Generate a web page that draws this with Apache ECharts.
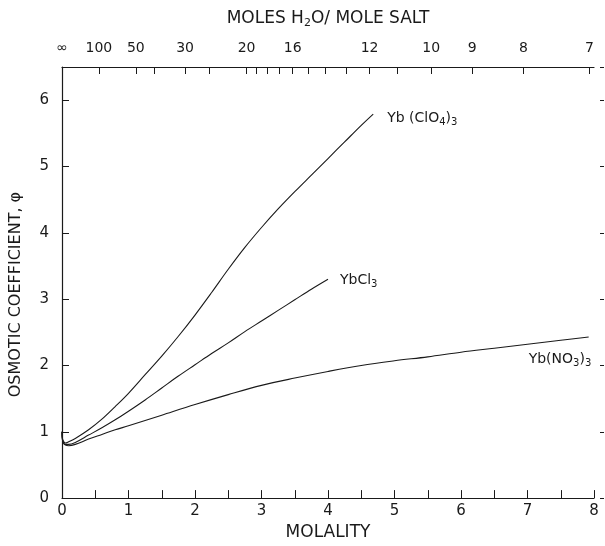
<!DOCTYPE html>
<html>
<head>
<meta charset="utf-8">
<script src="https://cdn.jsdelivr.net/npm/echarts@6/dist/echarts.min.js"></script>
<style>
  html, body { margin: 0; padding: 0; background: #fff; }
  #chart { width: 605px; height: 546px; }
</style>
</head>
<body>
<div id="chart"></div>
<script>
// molality / osmotic coefficient
var mClO4 = [0, 0.005, 0.02, 0.05, 0.1, 0.2, 0.4, 0.6, 0.8, 1.0, 1.25, 1.5, 1.75, 2.0, 2.25, 2.5, 2.75, 3.0, 3.25, 3.5, 3.75, 4.0, 4.25, 4.5, 4.68];
var phiClO4 = [1.0, 0.91, 0.86, 0.83, 0.85, 0.9, 1.03, 1.19, 1.38, 1.58, 1.86, 2.14, 2.44, 2.76, 3.1, 3.45, 3.78, 4.08, 4.36, 4.62, 4.87, 5.12, 5.37, 5.62, 5.79];

var mCl = [0, 0.005, 0.02, 0.05, 0.1, 0.2, 0.4, 0.6, 0.8, 1.0, 1.25, 1.5, 1.75, 2.0, 2.25, 2.5, 2.75, 3.0, 3.25, 3.5, 3.75, 4.0];
var phiCl = [1.0, 0.9, 0.84, 0.81, 0.81, 0.84, 0.95, 1.06, 1.18, 1.31, 1.48, 1.66, 1.84, 2.01, 2.18, 2.34, 2.51, 2.67, 2.83, 2.99, 3.15, 3.3];

var mNO3 = [0, 0.005, 0.02, 0.05, 0.1, 0.2, 0.4, 0.6, 0.8, 1.0, 1.5, 2.0, 2.5, 3.0, 3.5, 4.0, 4.5, 5.0, 5.5, 6.0, 6.5, 7.0, 7.5, 7.92];
var phiNO3 = [1.0, 0.89, 0.83, 0.8, 0.79, 0.81, 0.89, 0.96, 1.03, 1.09, 1.25, 1.41, 1.56, 1.7, 1.81, 1.91, 2.0, 2.07, 2.13, 2.2, 2.26, 2.32, 2.38, 2.43];

// top axis: moles H2O per mole salt (55.51 / m)
var waterLabels = ['∞', '100', '50', '30', '20', '16', '12', '10', '9', '8', '7'];
var waterTicks = [100, 50, 40, 30, 25, 20, 19, 18, 17, 16, 15, 14, 13, 12, 11, 10, 9, 8, 7];

function pairs(xs, ys) {
    return xs.map(function (x, i) { return [x, ys[i]]; });
}
function toMolality(n) {
    return n === '∞' ? 0 : 55.51 / Number(n);
}

var labelPos = waterLabels.map(toMolality);
var tickPos = [0].concat(waterTicks.map(toMolality));

var ink = '#1a1a1a';
var font = 'DejaVu Sans';
var subStyle = { fontSize: 10, verticalAlign: 'bottom', padding: [8, 0, 0, 0], color: ink, fontFamily: font };

var myChart = echarts.init(document.getElementById('chart'));
var option = {
    animation: false,
    grid: { left: 59, right: 11, top: 67, bottom: 43 },
    xAxis: [
        {
            type: 'value',
            position: 'bottom',
            min: 0,
            max: 8,
            interval: 0.5,
            name: 'MOLALITY',
            nameLocation: 'middle',
            nameGap: 24,
            nameTextStyle: { color: ink, fontFamily: font, fontSize: 17 },
            axisLine: { onZero: false, lineStyle: { color: ink, width: 1.2 } },
            axisTick: { inside: true, length: 8, lineStyle: { color: ink } },
            axisLabel: {
                color: ink, fontFamily: font, fontSize: 15, margin: 6,
                formatter: function (v) { return v % 1 === 0 ? String(v) : ''; }
            },
            splitLine: { show: false }
        },
        {
            type: 'value',
            position: 'top',
            min: 0,
            max: 8,
            name: 'MOLES H{sub|2}O/ MOLE SALT',
            nameLocation: 'middle',
            nameGap: 38,
            nameTextStyle: {
                color: ink, fontFamily: font, fontSize: 17,
                rich: { sub: { fontSize: 11, verticalAlign: 'bottom', padding: [10, 0, 0, 0], color: ink, fontFamily: font } }
            },
            axisLine: { show: true, onZero: false, lineStyle: { color: ink, width: 1.2 } },
            axisTick: { show: true, inside: true, length: 7, customValues: tickPos, lineStyle: { color: ink } },
            axisLabel: {
                color: ink, fontFamily: font, fontSize: 14, margin: 12,
                customValues: labelPos,
                formatter: function (v) {
                    for (var i = 0; i < labelPos.length; i++) {
                        if (Math.abs(labelPos[i] - v) < 1e-6) return waterLabels[i];
                    }
                    return '';
                }
            },
            splitLine: { show: false }
        }
    ],
    yAxis: [
        {
            type: 'value',
            min: 0,
            max: 6.5,
            interval: 1,
            name: 'OSMOTIC COEFFICIENT, φ',
            nameLocation: 'middle',
            nameGap: 38,
            nameTextStyle: { color: ink, fontFamily: font, fontSize: 16, padding: [0, 24, 0, 0] },
            axisLine: { show: true, onZero: false, lineStyle: { color: ink, width: 1.2 } },
            axisTick: { show: true, inside: true, length: 7, lineStyle: { color: ink } },
            axisLabel: { color: ink, fontFamily: font, fontSize: 15, margin: 13, showMaxLabel: false },
            splitLine: { show: false }
        },
        {
            type: 'value',
            position: 'right',
            offset: 10,
            min: 0,
            max: 6.5,
            interval: 1,
            axisLine: { show: false, onZero: false },
            axisTick: { show: true, inside: true, length: 4, lineStyle: { color: ink } },
            axisLabel: { show: false },
            splitLine: { show: false }
        }
    ],
    series: [
        {
            name: 'Yb(ClO4)3',
            type: 'line',
            data: pairs(mClO4, phiClO4),
            smooth: 0.35,
            symbol: 'none',
            lineStyle: { color: ink, width: 1.1 },
            endLabel: {
                show: true,
                offset: [6, 4],
                color: ink, fontFamily: font, fontSize: 14,
                formatter: 'Yb (ClO{sub|4}){sub|3}',
                rich: { sub: subStyle }
            }
        },
        {
            name: 'YbCl3',
            type: 'line',
            data: pairs(mCl, phiCl),
            smooth: 0.35,
            symbol: 'none',
            lineStyle: { color: ink, width: 1.1 },
            endLabel: {
                show: true,
                offset: [4, 1],
                color: ink, fontFamily: font, fontSize: 14,
                formatter: 'YbCl{sub|3}',
                rich: { sub: subStyle }
            }
        },
        {
            name: 'Yb(NO3)3',
            type: 'line',
            data: pairs(mNO3, phiNO3),
            smooth: 0.35,
            symbol: 'none',
            lineStyle: { color: ink, width: 1.1 },
            endLabel: {
                show: true,
                offset: [-68, 22],
                color: ink, fontFamily: font, fontSize: 14,
                formatter: 'Yb(NO{sub|3}){sub|3}',
                rich: { sub: subStyle }
            }
        }
    ]
};
myChart.setOption(option);
</script>
</body>
</html>
